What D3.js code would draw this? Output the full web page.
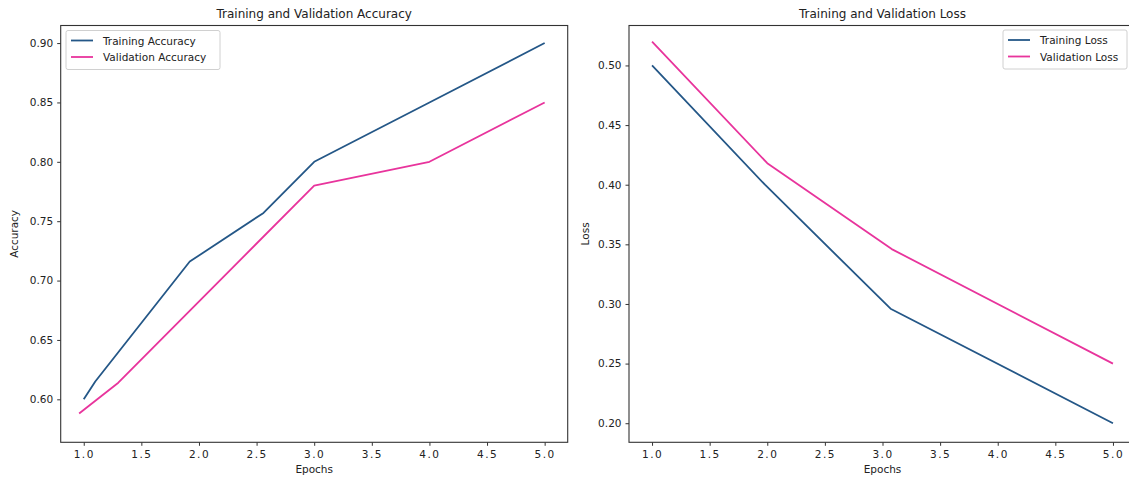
<!DOCTYPE html>
<html><head><meta charset="utf-8">
<script src="https://cdn.jsdelivr.net/npm/d3@7"></script>
<style>
html,body{margin:0;background:#fff;overflow:hidden;}
svg{display:block;font-family:"DejaVu Sans",sans-serif;overflow:hidden;}
</style></head>
<body><svg id="c" width="1129" height="481"></svg>
<script>
const xTicks = [1.0,1.5,2.0,2.5,3.0,3.5,4.0,4.5,5.0];
const accYTicks = [0.60,0.65,0.70,0.75,0.80,0.85,0.90];
const lossYTicks = [0.20,0.25,0.30,0.35,0.40,0.45,0.50];

const trainAccX = [1.0, 1.1, 1.92, 2.56, 3.0, 4.0, 5.0];
const trainAccY = [0.600, 0.615, 0.716, 0.757, 0.800, 0.850, 0.900];
const valAccX = [0.96, 1.3, 3.0, 4.0, 5.0];
const valAccY = [0.588, 0.614, 0.780, 0.800, 0.850];

const trainLossX = [1.0, 1.98, 3.07, 5.0];
const trainLossY = [0.500, 0.400, 0.296, 0.200];
const valLossX = [1.0, 2.0, 3.08, 5.0];
const valLossY = [0.520, 0.418, 0.346, 0.250];

const blue = "#245787", pink = "#e8349c";
const svg = d3.select("#c");
svg.append("defs").append("clipPath").attr("id","vp").append("rect")
  .attr("x",0).attr("y",0).attr("width",1129).attr("height",481);
const root = svg.append("g").attr("clip-path","url(#vp)");

function panel(o){
  const g = root.append("g");
  const x = d3.scaleLinear().domain([0.8,5.2]).range([o.left,o.left+507]);
  const y = d3.scaleLinear().domain(o.ydom).range([442.3,25.5]);
  const line = d3.line().x(d=>x(d[0])).y(d=>y(d[1]));
  o.series.forEach(s=>{
    g.append("path").datum(s.xs.map((v,i)=>[v,s.ys[i]]))
     .attr("d",line).attr("fill","none").attr("stroke",s.color).attr("stroke-width",1.8)
     .attr("stroke-linejoin","round");
  });
  const xa = g.append("g").attr("transform",`translate(0,442.3)`)
    .call(d3.axisBottom(x).tickValues(xTicks).tickFormat(d3.format(".1f")).tickSizeOuter(0).tickSize(3.5).tickPadding(5));
  const ya = g.append("g").attr("transform",`translate(${o.left},0)`)
    .call(d3.axisLeft(y).tickValues(o.yticks).tickFormat(d3.format(".2f")).tickSizeOuter(0).tickSize(3.5).tickPadding(4));
  [xa,ya].forEach(a=>{
    a.select(".domain").remove();
    a.selectAll("line").attr("stroke","#333");
    a.selectAll("text").attr("fill","#222").attr("font-size",10.5).attr("font-family","DejaVu Sans");
  });
  xa.selectAll("text").attr("letter-spacing",1.5);
  g.append("rect").attr("x",o.left).attr("y",25.5).attr("width",507).attr("height",442.3-25.5)
    .attr("fill","none").attr("stroke","#333").attr("stroke-width",1.1);
  g.append("text").attr("x",o.left+253.5).attr("y",18).attr("text-anchor","middle")
    .attr("font-size",12).attr("fill","#222").text(o.title);
  g.append("text").attr("x",o.left+253.5).attr("y",473).attr("text-anchor","middle")
    .attr("font-size",10.5).attr("fill","#222").text("Epochs");
  g.append("text").attr("transform",`translate(${o.ylabX},${(25.5+442.3)/2}) rotate(-90)`)
    .attr("text-anchor","middle").attr("font-size",10.5).attr("fill","#222").text(o.ylabel);
  const L = o.legend;
  g.append("rect").attr("x",L.x).attr("y",L.y).attr("width",L.w).attr("height",L.h).attr("rx",2)
    .attr("fill","#fff").attr("stroke","#d0d0d0").attr("stroke-width",1);
  o.series.forEach((s,i)=>{
    const yy = L.y + 10 + i*16.5;
    g.append("line").attr("x1",L.x+5).attr("x2",L.x+27).attr("y1",yy).attr("y2",yy)
      .attr("stroke",s.color).attr("stroke-width",1.8);
    g.append("text").attr("x",L.x+37).attr("y",yy+4).attr("font-size",10.5).attr("fill","#222").text(s.name);
  });
}

panel({left:60.7, ydom:[0.5638,0.9148], yticks:accYTicks, title:"Training and Validation Accuracy",
  ylabel:"Accuracy", ylabX:18,
  legend:{x:66,y:30.5,w:154,h:39},
  series:[{name:"Training Accuracy",xs:trainAccX,ys:trainAccY,color:blue},
          {name:"Validation Accuracy",xs:valAccX,ys:valAccY,color:pink}]});
panel({left:629, ydom:[0.184,0.5335], yticks:lossYTicks, title:"Training and Validation Loss",
  ylabel:"Loss", ylabX:589,
  legend:{x:1003,y:30,w:124,h:39},
  series:[{name:"Training Loss",xs:trainLossX,ys:trainLossY,color:blue},
          {name:"Validation Loss",xs:valLossX,ys:valLossY,color:pink}]});
</script></body></html>
